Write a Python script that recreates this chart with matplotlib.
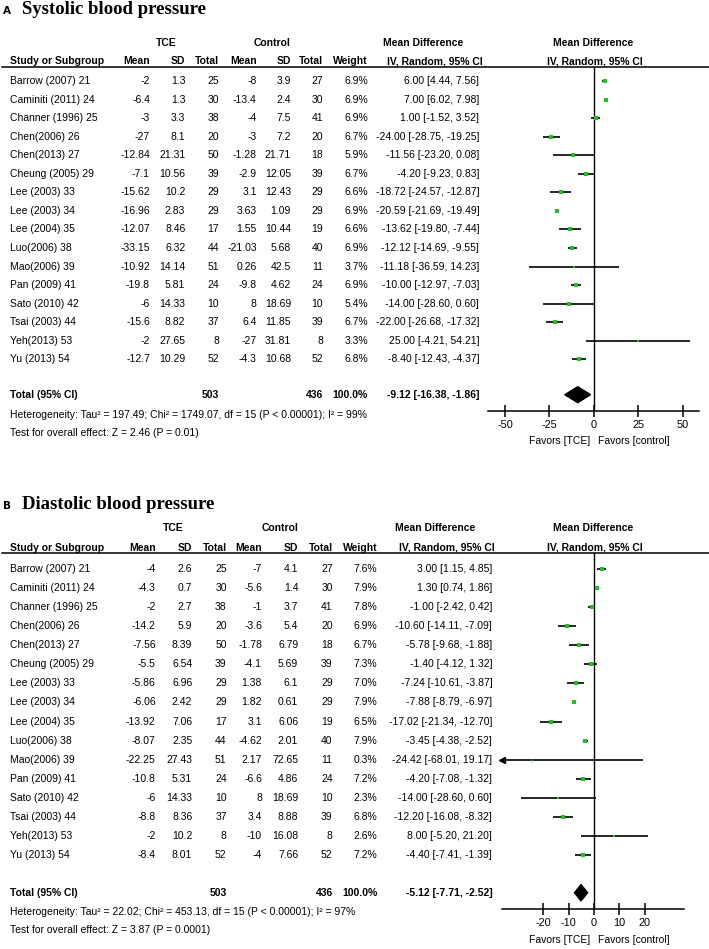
import matplotlib
matplotlib.use("Agg")
import matplotlib.pyplot as plt
import numpy as np

plt.rcParams["font.family"] = ["Liberation Sans", "DejaVu Sans"]

W, H = 709, 949

STUDIES = ["Barrow (2007) 21", "Caminiti (2011) 24", "Channer (1996) 25", "Chen(2006) 26",
           "Chen(2013) 27", "Cheung (2005) 29", "Lee (2003) 33", "Lee (2003) 34",
           "Lee (2004) 35", "Luo(2006) 38", "Mao(2006) 39", "Pan (2009) 41",
           "Sato (2010) 42", "Tsai (2003) 44", "Yeh(2013) 53", "Yu (2013) 54"]
N_TCE = [25, 30, 38, 20, 50, 39, 29, 29, 17, 44, 51, 24, 10, 37, 8, 52]
N_CTL = [27, 30, 41, 20, 18, 39, 29, 29, 19, 40, 11, 24, 10, 39, 8, 52]

# ---- systolic
SBP_TCE_MEAN = [-2, -6.4, -3, -27, -12.84, -7.1, -15.62, -16.96, -12.07, -33.15, -10.92, -19.8, -6, -15.6, -2, -12.7]
SBP_TCE_SD = [1.3, 1.3, 3.3, 8.1, 21.31, 10.56, 10.2, 2.83, 8.46, 6.32, 14.14, 5.81, 14.33, 8.82, 27.65, 10.29]
SBP_CTL_MEAN = [-8, -13.4, -4, -3, -1.28, -2.9, 3.1, 3.63, 1.55, -21.03, 0.26, -9.8, 8, 6.4, -27, -4.3]
SBP_CTL_SD = [3.9, 2.4, 7.5, 7.2, 21.71, 12.05, 12.43, 1.09, 10.44, 5.68, 42.5, 4.62, 18.69, 11.85, 31.81, 10.68]
SBP_WEIGHT = [6.9, 6.9, 6.9, 6.7, 5.9, 6.7, 6.6, 6.9, 6.6, 6.9, 3.7, 6.9, 5.4, 6.7, 3.3, 6.8]
SBP_MD = [6.00, 7.00, 1.00, -24.00, -11.56, -4.20, -18.72, -20.59, -13.62, -12.12, -11.18, -10.00, -14.00, -22.00, 25.00, -8.40]
SBP_LO = [4.44, 6.02, -1.52, -28.75, -23.20, -9.23, -24.57, -21.69, -19.80, -14.69, -36.59, -12.97, -28.60, -26.68, -4.21, -12.43]
SBP_HI = [7.56, 7.98, 3.52, -19.25, 0.08, 0.83, -12.87, -19.49, -7.44, -9.55, 14.23, -7.03, 0.60, -17.32, 54.21, -4.37]
SBP_TOTAL = (-9.12, -16.38, -1.86)
SBP_HET = "Heterogeneity: Tau² = 197.49; Chi² = 1749.07, df = 15 (P < 0.00001); I² = 99%"
SBP_TEST = "Test for overall effect: Z = 2.46 (P = 0.01)"
SBP_TICKS = [-50, -25, 0, 25, 50]

# ---- diastolic
DBP_TCE_MEAN = [-4, -4.3, -2, -14.2, -7.56, -5.5, -5.86, -6.06, -13.92, -8.07, -22.25, -10.8, -6, -8.8, -2, -8.4]
DBP_TCE_SD = [2.6, 0.7, 2.7, 5.9, 8.39, 6.54, 6.96, 2.42, 7.06, 2.35, 27.43, 5.31, 14.33, 8.36, 10.2, 8.01]
DBP_CTL_MEAN = [-7, -5.6, -1, -3.6, -1.78, -4.1, 1.38, 1.82, 3.1, -4.62, 2.17, -6.6, 8, 3.4, -10, -4]
DBP_CTL_SD = [4.1, 1.4, 3.7, 5.4, 6.79, 5.69, 6.1, 0.61, 6.06, 2.01, 72.65, 4.86, 18.69, 8.88, 16.08, 7.66]
DBP_WEIGHT = [7.6, 7.9, 7.8, 6.9, 6.7, 7.3, 7.0, 7.9, 6.5, 7.9, 0.3, 7.2, 2.3, 6.8, 2.6, 7.2]
DBP_MD = [3.00, 1.30, -1.00, -10.60, -5.78, -1.40, -7.24, -7.88, -17.02, -3.45, -24.42, -4.20, -14.00, -12.20, 8.00, -4.40]
DBP_LO = [1.15, 0.74, -2.42, -14.11, -9.68, -4.12, -10.61, -8.79, -21.34, -4.38, -68.01, -7.08, -28.60, -16.08, -5.20, -7.41]
DBP_HI = [4.85, 1.86, 0.42, -7.09, -1.88, 1.32, -3.87, -6.97, -12.70, -2.52, 19.17, -1.32, 0.60, -8.32, 21.20, -1.39]
DBP_TOTAL = (-5.12, -7.71, -2.52)
DBP_HET = "Heterogeneity: Tau² = 22.02; Chi² = 453.13, df = 15 (P < 0.00001); I² = 97%"
DBP_TEST = "Test for overall effect: Z = 3.87 (P = 0.0001)"
DBP_TICKS = [-20, -10, 0, 10, 20]

FS = 7.5
GREEN = "#1fc01f"


def g(v):
    return f"{v:g}"


def panel(bg, letter, title, base, lay, tm, tsd, cm, csd, wt, md, lo, hi, tot, het, test, ticks, xlim):
    # lay: pixel positions of rows / columns for this panel
    r0, step = lay["row0"], lay["step"]
    c = lay["cols"]
    bg.text(3, base, letter, fontsize=7.5, fontweight="bold", family="DejaVu Sans", va="baseline")
    bg.text(22, base, title, fontsize=13.5, fontweight="bold", family="Liberation Serif", va="baseline")
    yh1, yh2 = lay["hdr1"], lay["hdr2"]
    bold = dict(fontsize=FS, fontweight="bold", va="center")
    bg.text(lay["tce_c"], yh1, "TCE", ha="center", **bold)
    bg.text(lay["ctl_c"], yh1, "Control", ha="center", **bold)
    bg.text(lay["md_c"], yh1, "Mean Difference", ha="center", **bold)
    bg.text(593, yh1, "Mean Difference", ha="center", **bold)
    bg.text(10, yh2, "Study or Subgroup", **bold)
    for x, s in zip(c[:7], ["Mean", "SD", "Total", "Mean", "SD", "Total", "Weight"]):
        bg.text(x, yh2, s, ha="right", **bold)
    bg.text(lay["iv_c"], yh2, "IV, Random, 95% CI", ha="center", **bold)
    bg.text(595, yh2, "IV, Random, 95% CI", ha="center", **bold)
    bg.plot([2, W], [lay["line"], lay["line"]], color="black", lw=1.1)

    for i, name in enumerate(STUDIES):
        y = r0 + i * step
        bg.text(10, y, name, fontsize=FS, va="center")
        vals = [g(tm[i]), g(tsd[i]), str(N_TCE[i]), g(cm[i]), g(csd[i]), str(N_CTL[i]),
                f"{wt[i]:.1f}%", f"{md[i]:.2f} [{lo[i]:.2f}, {hi[i]:.2f}]"]
        for x, s in zip(c, vals):
            bg.text(x, y, s, fontsize=FS, ha="right", va="center")

    yt = lay["total"]
    bg.text(10, yt, "Total (95% CI)", **bold)
    for x, s in [(c[2], str(sum(N_TCE))), (c[5], str(sum(N_CTL))), (c[6], "100.0%"),
                 (c[7], f"{tot[0]:.2f} [{tot[1]:.2f}, {tot[2]:.2f}]")]:
        bg.text(x, yt, s, ha="right", **bold)
    bg.text(10, lay["het"], het, fontsize=FS, va="center")
    bg.text(10, lay["test"], test, fontsize=FS, va="center")

    # forest axes
    x0, x1 = lay["ax_x"]
    ytop, yax = lay["line"], lay["axis"]
    ax = bg.figure.add_axes([x0 / W, 1 - yax / H, (x1 - x0) / W, (yax - ytop) / H])
    ax.set_xlim(*xlim)
    ax.set_ylim((yax - r0) / step, (ytop - r0) / step)
    ax.patch.set_alpha(0)
    for s in ["top", "left", "right"]:
        ax.spines[s].set_visible(False)
    ax.spines["bottom"].set_linewidth(1.1)
    ax.set_yticks([])
    ax.set_xticks(ticks)
    ax.set_xticklabels([str(t) for t in ticks])
    ax.tick_params(axis="x", direction="inout", length=9, width=1.1, labelsize=FS + 0.3, pad=2)
    ax.axvline(0, color="black", lw=1.0)
    ys = np.arange(len(STUDIES))
    for y, m, l, h, w in zip(ys, md, lo, hi, wt):
        ax.plot([max(l, xlim[0]), min(h, xlim[1])], [y, y], color="black", lw=1.2, solid_capstyle="butt")
        if l < xlim[0]:
            ax.plot([xlim[0]], [y], marker="<", color="black", ms=5, clip_on=False)
        ax.plot([m], [y], marker="s", color=GREEN, ms=1.2 + 0.24 * w, mew=0)
    ty = (yt - r0) / step
    ax.fill([tot[1], tot[0], tot[2], tot[0]], [ty, ty - 0.43, ty, ty + 0.43], color="black")
    bg.text(590, lay["fav"], "Favors [TCE]", fontsize=FS, ha="right", va="center")
    bg.text(598, lay["fav"], "Favors [control]", fontsize=FS, ha="left", va="center")


fig = plt.figure(figsize=(W / 100, H / 100), dpi=100)
bg = fig.add_axes([0, 0, 1, 1])
bg.set_xlim(0, W)
bg.set_ylim(H, 0)
bg.axis("off")

LAY_A = dict(row0=81, step=18.55, total=394.7, het=415, test=433, hdr1=42.7, hdr2=61, line=66.7,
             axis=411, fav=440.7, tce_c=166.7, ctl_c=271.7, md_c=423, iv_c=435,
             cols=[150, 185.3, 219, 256.7, 291, 323.3, 368, 479.3], ax_x=(488, 699))
LAY_B = dict(row0=569, step=19.07, total=892.7, het=912, test=930, hdr1=528, hdr2=548, line=553,
             axis=909, fav=940, tce_c=173, ctl_c=280, md_c=435, iv_c=446.7,
             cols=[155.7, 192.3, 226.7, 262, 298.3, 332.7, 377.3, 492.3], ax_x=(502.3, 684.3))

panel(bg, "A", "Systolic blood pressure", 14, LAY_A, SBP_TCE_MEAN, SBP_TCE_SD, SBP_CTL_MEAN, SBP_CTL_SD,
      SBP_WEIGHT, SBP_MD, SBP_LO, SBP_HI, SBP_TOTAL, SBP_HET, SBP_TEST, SBP_TICKS, (-59.5, 59))
panel(bg, "B", "Diastolic blood pressure", 509, LAY_B, DBP_TCE_MEAN, DBP_TCE_SD, DBP_CTL_MEAN, DBP_CTL_SD,
      DBP_WEIGHT, DBP_MD, DBP_LO, DBP_HI, DBP_TOTAL, DBP_HET, DBP_TEST, DBP_TICKS, (-36.1, 35.5))

fig.savefig("out.png", dpi=100)
